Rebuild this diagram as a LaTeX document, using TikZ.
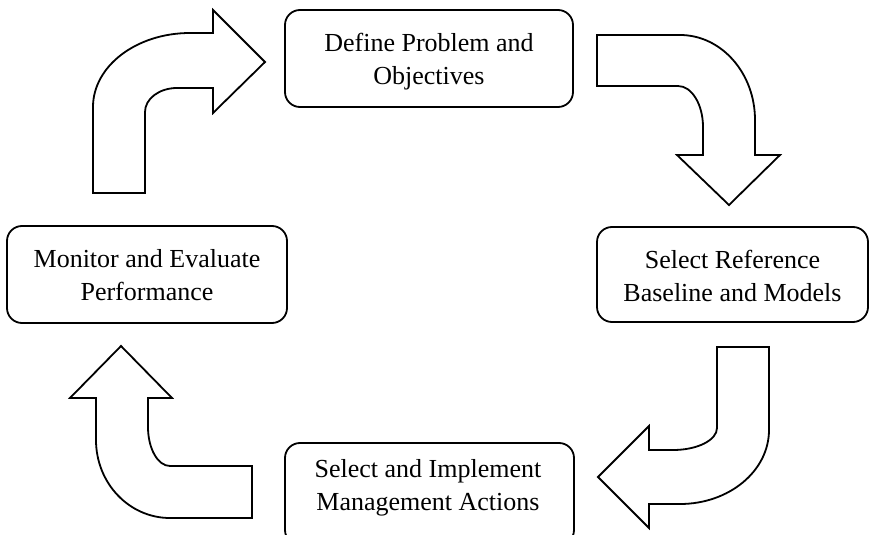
\documentclass[tikz,border=0pt]{standalone}
\usepackage{fontspec}
\setmainfont{Liberation Serif}
\begin{document}
\begin{tikzpicture}[x=1pt,y=-1pt,
  stagebox/.style={draw, line width=1.8pt, rounded corners=15pt, inner sep=0pt},
  stagetext/.style={inner sep=0pt, align=center, font=\fontsize{26}{33}\selectfont},
  blockarrow/.style={draw, line width=1.8pt, fill=white, line join=miter}]
\useasboundingbox (0,0) rectangle (871,535);

\node[stagebox, minimum width=288pt, minimum height=97pt] (define) at (429,58.5) {};
\node[stagetext] (definetext) at ([yshift=-3pt]define.center) {Define Problem and\\Objectives};
\node[stagebox, minimum width=271pt, minimum height=95pt] (selref) at (732.5,274.5) {};
\node[stagetext] (selreftext) at ([yshift=-1pt]selref.center) {Select Reference\\Baseline and Models};
\node[stagebox, minimum width=289pt, minimum height=102pt] (selimp) at (429.5,494) {};
\node[stagetext] (selimptext) at (428,488) {Select and Implement\\Management Actions};
\node[stagebox, minimum width=280pt, minimum height=97pt] (monitor) at (147,274.5) {};
\node[stagetext] (monitortext) at ([yshift=-1pt]monitor.center) {Monitor and Evaluate\\Performance};

% arrow: monitor -> define (up then right)
\draw[blockarrow] (93,193) -- (93,107)
  .. controls (93,66.1) and (136.4,33) .. (190,33)
  -- (213,33) -- (213,10) -- (265,62) -- (213,113) -- (213,88) -- (177,88)
  .. controls (159.3,88) and (145,98.7) .. (145,112)
  -- (145,193) -- cycle;

% arrow: define -> selref (right then down)
\draw[blockarrow] (597,35) -- (680,35)
  .. controls (721.4,35) and (755,73.1) .. (755,120)
  -- (755,155) -- (780,155) -- (729,205) -- (677,155) -- (703,155) -- (703,127)
  .. controls (703,104.4) and (691.8,86) .. (678,86)
  -- (597,86) -- cycle;

% arrow: selref -> selimp (down then left)
\draw[blockarrow] (717,347) -- (769,347) -- (769,430)
  .. controls (769,470.9) and (729.2,504) .. (680,504)
  -- (649,504) -- (649,528) -- (598,477) -- (649,426) -- (649,450) -- (673,450)
  .. controls (697.3,450) and (717,440.2) .. (717,428)
  -- cycle;

% arrow: selimp -> monitor (left then up)
\draw[blockarrow] (252,466) -- (252,518) -- (170,518)
  .. controls (129.1,518) and (96,483.1) .. (96,440)
  -- (96,398) -- (70,398) -- (121,346) -- (172,398) -- (148,398) -- (148,427)
  .. controls (148,448.5) and (157.8,466) .. (170,466)
  -- cycle;
\end{tikzpicture}
\end{document}
